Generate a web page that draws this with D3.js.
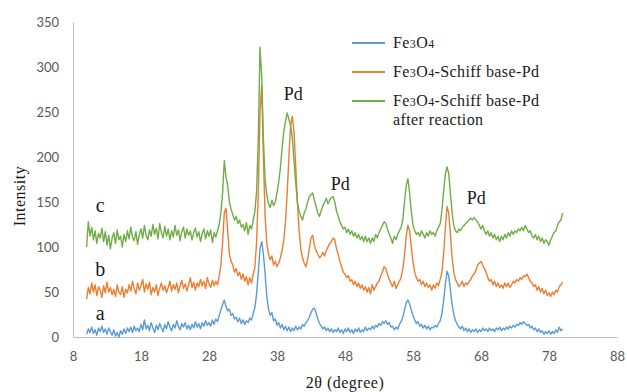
<!DOCTYPE html>
<html>
<head>
<meta charset="utf-8">
<script src="https://cdn.jsdelivr.net/npm/d3@7"></script>
<style>
  body { margin: 0; background: #fff; }
  svg { display: block; }
  .tick text { font-family: Lato, "Liberation Sans", sans-serif; font-size: 13px; fill: #595959; }
  .serif { font-family: "Liberation Serif", "Times New Roman", serif; fill: #1a1a1a; }
</style>
</head>
<body>
<svg width="627" height="392"></svg>
<script>
"use strict";

// 2theta grid of the scans: 10..80 step 0.25
var thetaStart = 10, thetaStep = 0.25;

// a - Fe3O4 (one row per degree)
var fe3o4 = [
  3,9,5,11, 4,8,2,10, 6,12,5,9, 3,10,6,2, 8,1,5,0,
  7,3,9,4, 10,6,11,5, 12,7,10,6, 14,8,19,9, 13,7,16,10,
  5,13,8,15, 10,6,14,9, 17,11,7,14, 10,18,12,8, 15,11,16,9,
  13,8,14,10, 17,11,15,9, 16,12,18,13, 16,12,19,14, 20,17,24,30,
  36,41,34,29, 31,24,26,20, 22,17,21,15, 19,14,18,16, 21,19,26,33,
  48,72,98,106, 92,70,45,31, 24,27,18,20, 13,16,10,14, 8,12,7,11,
  6,10,7,12, 8,11,9,14, 12,16,18,22, 27,31,32,27, 20,15,12,9,
  11,7,10,6, 9,5,8,6, 10,5,8,4, 9,6,10,5, 8,4,9,6,
  10,5,8,6, 11,7,10,8, 12,9,13,11, 15,13,17,15, 18,14,16,11,
  12,8,11,9, 14,17,22,30, 38,41,37,30, 24,19,15,17, 12,14,10,13,
  9,12,8,11, 10,13,11,15, 18,26,40,58, 73,68,52,36, 25,18,14,11,
  9,12,7,10, 6,9,5,8, 6,9,5,8, 6,10,7,9, 6,10,7,9,
  6,10,8,11, 7,10,8,11, 9,12,10,13, 11,14,13,16, 14,17,15,13,
  14,10,12,8, 10,6,9,5, 7,3,6,4, 7,3,6,4, 8,5,11,7,
  9
];

// b - Fe3O4-Schiff base-Pd
var schiffPd = [
  42,55,48,60, 50,58,46,56, 52,44,57,49, 61,50,55,47, 53,45,58,50,
  47,56,44,53, 49,58,51,62, 54,48,60,52, 57,64,50,59, 53,61,47,55,
  50,58,46,54, 60,52,57,49, 55,62,51,58, 53,60,49,57, 63,54,59,51,
  58,66,55,61, 52,60,56,64, 57,62,54,66, 59,55,63,57, 62,58,68,80,
  105,138,143,118, 92,84,80,72, 76,68,72,64, 70,62,67,58, 66,60,70,78,
  105,160,250,280, 200,135,104,92, 86,90,80,84, 78,82,88,96, 108,128,160,200,
  235,245,228,190, 150,118,98,88, 82,78,86,98, 110,113,102,96, 92,88,90,94,
  90,96,100,104, 106,110,108,98, 92,84,78,72, 70,66,68,62, 64,58,62,56,
  60,54,58,52, 56,50,55,48, 58,52,56,60, 62,68,72,78, 76,70,64,60,
  56,62,54,58, 62,66,76,90, 112,124,118,100, 84,72,66,62, 64,58,62,56,
  60,55,58,52, 58,54,60,57, 64,72,92,120, 145,138,115,88, 72,64,60,56,
  58,62,56,60, 58,62,64,68, 70,74,80,82, 84,80,76,72, 66,62,64,58,
  62,56,60,55, 58,54,60,56, 60,55,58,62, 60,64,62,66, 64,68,67,70,
  66,62,60,56, 58,52,56,50, 54,48,52,46, 49,45,50,47, 52,50,56,58,
  61
];

// c - Fe3O4-Schiff base-Pd after reaction
var schiffPdAfter = [
  100,128,112,122, 108,118,104,115, 110,121,106,117, 102,113,98,110, 116,104,119,108,
  112,100,114,106, 118,109,122,111, 107,117,103,114, 120,110,124,113, 108,119,112,125,
  114,121,109,126, 116,110,123,112, 120,108,118,111, 124,113,119,107, 117,122,110,120,
  113,118,108,116, 121,111,117,106, 115,120,109,118, 112,119,105,116, 111,118,125,138,
  160,196,178,168, 150,142,136,130, 134,126,130,122, 125,118,127,114, 124,120,130,140,
  162,220,322,290, 220,175,158,148, 144,152,146,150, 160,172,188,210, 228,240,249,242,
  235,222,196,172, 150,140,134,130, 138,142,150,156, 158,160,152,145, 138,134,140,146,
  150,154,148,152, 155,156,150,140, 134,128,124,120, 122,116,120,114, 118,112,116,110,
  114,108,112,106, 112,106,110,104, 110,106,114,110, 116,120,124,128, 126,120,114,110,
  104,112,108,114, 118,122,130,150, 168,176,160,140, 124,118,114,116, 112,118,114,110,
  116,112,118,114, 116,112,118,122, 126,140,162,180, 189,182,160,138, 124,118,116,120,
  118,122,124,126, 128,130,132,130, 133,130,128,124, 120,124,118,114, 118,112,116,110,
  114,108,112,106, 112,108,114,110, 116,112,118,114, 118,116,120,118, 122,118,124,120,
  116,118,112,110, 114,108,112,106, 110,104,108,106, 102,108,112,116, 118,124,128,130,
  138
];

var seriesNames = ["Fe3O4", "Fe3O4-Schiff base-Pd", "Fe3O4-Schiff base-Pd after reaction"];
var seriesColors = ["#5b9bd5", "#ed7d31", "#70ad47"];
var curveLetters = ["a", "b", "c"];
var letterPos = [[12, 19], [12, 68], [12, 139]];
var pdLabels = [[40.4, 263], [47.3, 163], [67.3, 148]];
var xTicks = [8, 18, 28, 38, 48, 58, 68, 78, 88];
var yTicks = [0, 50, 100, 150, 200, 250, 300, 350];

var svg = d3.select("svg");
var plotLeft = 73, plotRight = 617, plotTop = 22, plotBottom = 337;

var x = d3.scaleLinear().domain([8, 88]).range([plotLeft, plotRight]);
var y = d3.scaleLinear().domain([0, 350]).range([plotBottom, plotTop]);

var xAxis = svg.append("g")
    .attr("transform", "translate(0," + plotBottom + ")")
    .call(d3.axisBottom(x).tickValues(xTicks).tickSize(0).tickPadding(15));
var yAxis = svg.append("g")
    .attr("transform", "translate(" + plotLeft + ",0)")
    .call(d3.axisLeft(y).tickValues(yTicks).tickSize(0).tickPadding(14));
xAxis.select(".domain").attr("stroke", "#bfbfbf");
yAxis.select(".domain").attr("stroke", "#bfbfbf");

var line = d3.line()
    .x(function(d, i) { return x(thetaStart + i * thetaStep); })
    .y(function(d) { return y(d); });

var scans = [fe3o4, schiffPd, schiffPdAfter];
svg.append("g").selectAll("path")
    .data(scans)
  .enter().append("path")
    .attr("d", line)
    .attr("fill", "none")
    .attr("stroke", function(d, i) { return seriesColors[i]; })
    .attr("stroke-width", 1.4)
    .attr("stroke-linejoin", "round");

// curve letters
svg.selectAll(".letter")
    .data(curveLetters)
  .enter().append("text")
    .attr("class", "serif letter")
    .attr("x", function(d, i) { return x(letterPos[i][0]); })
    .attr("y", function(d, i) { return y(letterPos[i][1]); })
    .attr("text-anchor", "middle")
    .style("font-size", "20px")
    .text(function(d) { return d; });

// Pd markers
svg.selectAll(".pd")
    .data(pdLabels)
  .enter().append("text")
    .attr("class", "serif pd")
    .attr("x", function(d) { return x(d[0]); })
    .attr("y", function(d) { return y(d[1]); })
    .attr("text-anchor", "middle")
    .style("font-size", "18px")
    .text("Pd");

// axis titles
svg.append("text").attr("class", "serif")
    .attr("x", (plotLeft + plotRight) / 2).attr("y", 388)
    .attr("text-anchor", "middle")
    .style("font-size", "16px")
    .style("letter-spacing", "0.5px")
    .text("2θ (degree)");
svg.append("text").attr("class", "serif")
    .attr("transform", "translate(25,196) rotate(-90)")
    .attr("text-anchor", "middle")
    .style("font-size", "16px")
    .style("letter-spacing", "0.5px")
    .text("Intensity");

// legend; small digits in Fe3O4 like the original
function writeName(sel, s) {
  s.split(/(\d)/).forEach(function(part) {
    if (!part) return;
    var t = sel.append("tspan").text(part);
    if (/\d/.test(part)) t.style("font-size", "12px");
  });
}

var legendRows = [43, 72, 101];
var legend = svg.append("g");
seriesNames.forEach(function(name, i) {
  legend.append("line")
      .attr("x1", 352).attr("x2", 385)
      .attr("y1", legendRows[i]).attr("y2", legendRows[i])
      .attr("stroke", seriesColors[i])
      .attr("stroke-width", 2);
  var parts = name.split(" after ");
  var t = legend.append("text").attr("class", "serif")
      .attr("x", 393).attr("y", legendRows[i] + 5)
      .style("font-size", "16px")
      .style("letter-spacing", "0.4px");
  writeName(t, parts[0]);
  if (parts.length > 1) {
    legend.append("text").attr("class", "serif")
        .attr("x", 393).attr("y", legendRows[i] + 24)
        .style("font-size", "16px")
        .style("letter-spacing", "0.4px")
        .text("after " + parts[1]);
  }
});
</script>
</body>
</html>
